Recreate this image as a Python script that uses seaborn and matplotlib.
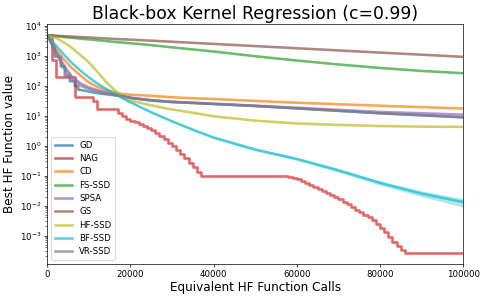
import matplotlib
matplotlib.use('Agg')
import matplotlib.pyplot as plt
import seaborn as sns

# sample points for the smooth curves
xs = [0, 2000, 4000, 6000, 8000, 10000, 12000, 14000, 16000, 18000, 20000,
      25000, 30000, 35000, 40000, 50000, 60000, 70000, 80000, 90000, 100000]

cd = [4800, 1800, 750, 380, 220, 130, 92, 72, 60, 53, 50,
      46, 41, 38, 36, 31, 27, 24, 21.5, 19.2, 17.3]
fs_ssd = [4800, 4500, 4200, 3950, 3700, 3500, 3300, 3100, 2900, 2750, 2600,
          2250, 1900, 1620, 1380, 960, 690, 510, 390, 310, 260]
spsa = [4800, 1500, 480, 200, 120, 88, 72, 61, 53, 46, 40,
        33, 29, 27, 25, 21.5, 18.3, 15.6, 13.3, 12, 10.8]
gs = [4800, 4640, 4480, 4330, 4180, 4065, 3900, 3770, 3640, 3520, 3440,
      3170, 2920, 2690, 2470, 2090, 1770, 1500, 1270, 1080, 914]
hf_ssd = [4800, 4000, 2800, 1800, 1050, 600, 300, 140, 76, 45, 32,
          22, 16, 12.5, 9.5, 6.8, 5.5, 4.9, 4.5, 4.3, 4.2]
bf_ssd = [4800, 2300, 1100, 560, 320, 190, 120, 80, 58, 39, 28,
          13, 6.5, 3.4, 1.86, 0.74, 0.36, 0.15, 0.057, 0.025, 0.013]
bf_lo = [4700, 2230, 1060, 540, 308, 182, 114, 76, 55, 37, 26.5,
         12.3, 6.1, 3.2, 1.72, 0.67, 0.32, 0.13, 0.048, 0.020, 0.0088]
bf_hi = [4900, 2370, 1140, 580, 332, 198, 126, 84, 61, 41, 29.5,
         13.7, 6.9, 3.6, 2.0, 0.80, 0.40, 0.17, 0.066, 0.031, 0.017]
vr_ssd = [4800, 1300, 380, 160, 100, 78, 64, 56, 50, 45, 39,
          32, 28.5, 26.5, 24.5, 21, 17.5, 14.5, 12, 10.3, 8.8]

# GD: stepped at the start, smooth later
gd_x = [0, 1000, 1840, 1840, 3300, 3300, 4250, 4250, 5450, 5450, 6650, 6650,
        7450, 7450, 9000, 11000, 13000, 15000, 17000, 20000, 25000, 30000,
        35000, 40000, 50000, 60000, 70000, 80000, 90000, 100000]
gd_y = [4800, 3000, 2000, 930, 930, 440, 440, 220, 220, 140, 140, 96,
        96, 74, 68, 60, 54, 50, 46, 39, 32, 28.5,
        26.5, 24.5, 21, 17.5, 14.5, 12, 10.3, 8.8]

# NAG: step values (value holds from x onward)
nag_x = [0, 1050, 2100, 6650, 10900, 11900, 17000, 18000, 19000, 20000,
         21000, 22000, 23000, 24000, 25000, 26000, 27000, 28000, 29000, 30000,
         31000, 32000, 33000, 34000, 35000, 36000, 37000,
         58000, 59000, 60000, 61000, 62000, 63000, 64000, 65000, 66000, 67000,
         68000, 69000, 70000, 71000, 72000, 73000, 74000, 75000, 76000, 77000,
         78000, 79000, 80000, 81000, 82000, 83000, 84000, 85000, 86000, 100000]
nag_y = [4800, 730, 190, 42, 30, 16.5, 12.5, 10, 8, 6.6,
         6.0, 5.4, 4.6, 3.8, 3.2, 2.6, 2.1, 1.65, 1.26, 0.95,
         0.71, 0.52, 0.38, 0.27, 0.19, 0.135, 0.1,
         0.091, 0.083, 0.075, 0.068, 0.058, 0.05, 0.043, 0.036, 0.031, 0.026,
         0.022, 0.019, 0.016, 0.013, 0.011, 0.0089, 0.0072, 0.006, 0.005, 0.0042,
         0.0032, 0.0024, 0.0018, 0.0013, 0.00089, 0.00063, 0.00045, 0.00033, 0.00026, 0.00026]

fig, ax = plt.subplots(figsize=(7.84, 4.84), dpi=62)
fig.subplots_adjust(left=0.097, right=0.953, bottom=0.12, top=0.92)

lw = 3
a = 0.7
sns.lineplot(x=gd_x, y=gd_y, ax=ax, color='tab:blue', lw=lw, alpha=a, label='GD',
             estimator=None, sort=False)
sns.lineplot(x=nag_x, y=nag_y, ax=ax, color='tab:red', lw=lw, alpha=a, label='NAG',
             estimator=None, sort=False, drawstyle='steps-post')
sns.lineplot(x=xs, y=cd, ax=ax, color='tab:orange', lw=lw, alpha=a, label='CD')
sns.lineplot(x=xs, y=fs_ssd, ax=ax, color='tab:green', lw=lw, alpha=a, label='FS-SSD')
sns.lineplot(x=xs, y=spsa, ax=ax, color='tab:purple', lw=lw, alpha=a, label='SPSA')
sns.lineplot(x=xs, y=gs, ax=ax, color='tab:brown', lw=lw, alpha=a, label='GS')
sns.lineplot(x=xs, y=hf_ssd, ax=ax, color='tab:olive', lw=lw, alpha=a, label='HF-SSD')
sns.lineplot(x=xs, y=bf_ssd, ax=ax, color='tab:cyan', lw=lw, alpha=a, label='BF-SSD')
ax.fill_between(xs, bf_lo, bf_hi, color='tab:cyan', alpha=0.35, lw=0)
sns.lineplot(x=xs, y=vr_ssd, ax=ax, color='tab:gray', lw=lw, alpha=a, label='VR-SSD')

ax.set_yscale('log')
ax.set_xlim(0, 100000)
ax.set_ylim(10 ** -3.95, 10 ** 4.06)
ax.set_xticks([0, 20000, 40000, 60000, 80000, 100000])
ax.set_title('Black-box Kernel Regression (c=0.99)', fontsize=20)
ax.set_xlabel('Equivalent HF Function Calls', fontsize=14, labelpad=2)
ax.set_ylabel('Best HF Function value', fontsize=14)
ax.legend(loc='lower left', fontsize=10)

fig.savefig('out.png', dpi=62)
